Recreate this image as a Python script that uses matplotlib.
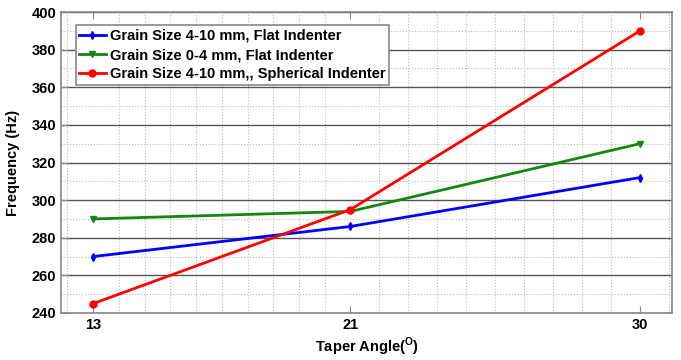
import matplotlib
matplotlib.use("Agg")
import matplotlib.pyplot as plt
import numpy as np
from matplotlib.ticker import FixedLocator

plt.rcParams['font.family'] = ['Liberation Sans', 'DejaVu Sans']
plt.rcParams['mathtext.fontset'] = 'custom'
plt.rcParams['mathtext.bf'] = 'Liberation Sans:bold'
plt.rcParams['mathtext.rm'] = 'Liberation Sans:bold'

taper_angle = [13, 21, 30]
flat_4_10 = [270, 286, 312]
flat_0_4 = [290, 294, 330]
sph_4_10 = [245, 295, 390]
labels = ['Grain Size 4-10 mm, Flat Indenter',
          'Grain Size 0-4 mm, Flat Indenter',
          'Grain Size 4-10 mm,, Spherical Indenter']

fig = plt.figure(figsize=(6.81, 3.6), dpi=100)
ax = fig.add_axes([0.0896, 0.1306, 0.8974, 0.836])

ax.plot(taper_angle, flat_4_10, color='#0000ff', lw=2, marker='d', ms=4, label=labels[0])
ax.plot(taper_angle, flat_0_4, color='#118811', lw=2, marker='v', ms=5, label=labels[1])
ax.plot(taper_angle, sph_4_10, color='#ff0000', lw=2, marker='o', ms=5, label=labels[2])

ax.set_xlim(12, 31)
ax.set_ylim(240, 400)
ax.set_xticks(taper_angle)
ax.set_yticks(np.arange(240, 401, 20))
minor_x = [12.2] + list(13 + 0.8 * np.arange(1, 10)) + list(21 + 0.9 * np.arange(1, 10)) + [30.9]
ax.xaxis.set_minor_locator(FixedLocator(minor_x))
ax.yaxis.set_minor_locator(FixedLocator(np.arange(250, 400, 20)))

ax.grid(axis='y', which='major', color='#555555', lw=1, ls='-')
ax.grid(axis='y', which='minor', color='#bbbbbb', lw=0.8, ls=':')
ax.grid(axis='x', which='minor', color='#bbbbbb', lw=0.8, ls=':')
ax.set_axisbelow(True)

ax.tick_params(axis='both', which='major', direction='in', length=5, color='#888888',
               labelsize=10.5, top=True, right=False)
ax.tick_params(axis='both', which='minor', length=0)
for lab in ax.get_xticklabels() + ax.get_yticklabels():
    lab.set_fontweight('bold')
for s in ax.spines.values():
    s.set_color('#888888')
    s.set_linewidth(1.2)

ax.set_xlabel(r'Taper Angle($^{\mathbf{O}}$)', fontsize=10.5, fontweight='bold', labelpad=3)
ax.set_ylabel('Frequency (Hz)', fontsize=10.5, fontweight='bold', labelpad=8)

leg = ax.legend(loc='upper left', bbox_to_anchor=(0.024, 0.957), prop={'weight': 'bold', 'size': 10.5},
                handlelength=1.8, handletextpad=0.3, borderpad=0.25, labelspacing=0.37,
                fancybox=False, framealpha=1, edgecolor='#888888', borderaxespad=0)
leg.get_frame().set_linewidth(1.2)

fig.savefig('out.png', dpi=100)
